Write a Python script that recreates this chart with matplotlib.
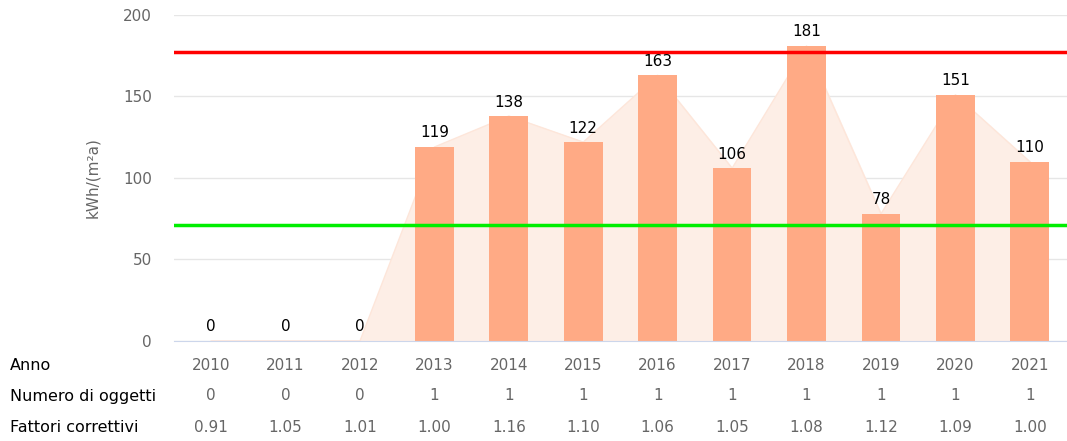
import matplotlib.pyplot as plt
import numpy as np

years = ["2010", "2011", "2012", "2013", "2014", "2015", "2016", "2017", "2018", "2019", "2020", "2021"]
values = [0, 0, 0, 119, 138, 122, 163, 106, 181, 78, 151, 110]
n_oggetti = ["0", "0", "0", "1", "1", "1", "1", "1", "1", "1", "1", "1"]
fattori = ["0.91", "1.05", "1.01", "1.00", "1.16", "1.10", "1.06", "1.05", "1.08", "1.12", "1.09", "1.00"]
red_limit = 177
green_limit = 71

plt.rcParams['font.family'] = ['DejaVu Sans']

fig = plt.figure(figsize=(10.67, 4.41), dpi=100)
ax = fig.add_axes([0.163, 0.2268, 0.837, 0.7392])

x = np.arange(len(years))
# area behind the bars
ax.fill_between(x, values, 0, color="#fdeee6", zorder=1)
ax.plot(x, values, color="#fde6da", lw=1, zorder=1)
ax.bar(x, values, width=0.52, color="#ffaa85", zorder=2)

for xi, v in zip(x, values):
    ax.text(xi, v + 4, str(v), ha="center", va="bottom", fontsize=11, color="black", zorder=5)

ax.axhline(red_limit, color="#ff0000", lw=2.5, zorder=4)
ax.axhline(green_limit, color="#00ee00", lw=2.5, zorder=4)

ax.set_xlim(-0.5, len(years) - 0.5)
ax.set_ylim(0, 200)
ax.set_yticks([0, 50, 100, 150, 200])
ax.yaxis.grid(True, color="#e6e6e6", lw=1)
ax.set_axisbelow(True)
for s in ["top", "right", "left"]:
    ax.spines[s].set_visible(False)
ax.spines["bottom"].set_color("#ccd6eb")
ax.tick_params(axis="y", length=0, labelsize=11, colors="#666666", pad=16)
ax.tick_params(axis="x", length=0, labelbottom=False)
ax.set_ylabel("kWh/(m²a)", fontsize=11, color="#666666", labelpad=16)

# table rows under the chart
rows = [("Anno", years), ("Numero di oggetti", n_oggetti), ("Fattori correttivi", fattori)]
row_y = [366, 396, 427]
for (label, vals), py in zip(rows, row_y):
    fy = 1 - py / 441
    fig.text(10 / 1067, fy, label, ha="left", va="center", fontsize=11.5, color="black")
    for xi, v in zip(x, vals):
        fx = ax.transData.transform((xi, 0))[0] / fig.bbox.width
        fig.text(fx, fy, v, ha="center", va="center", fontsize=11, color="#666666")

fig.savefig("out.png", dpi=100)
